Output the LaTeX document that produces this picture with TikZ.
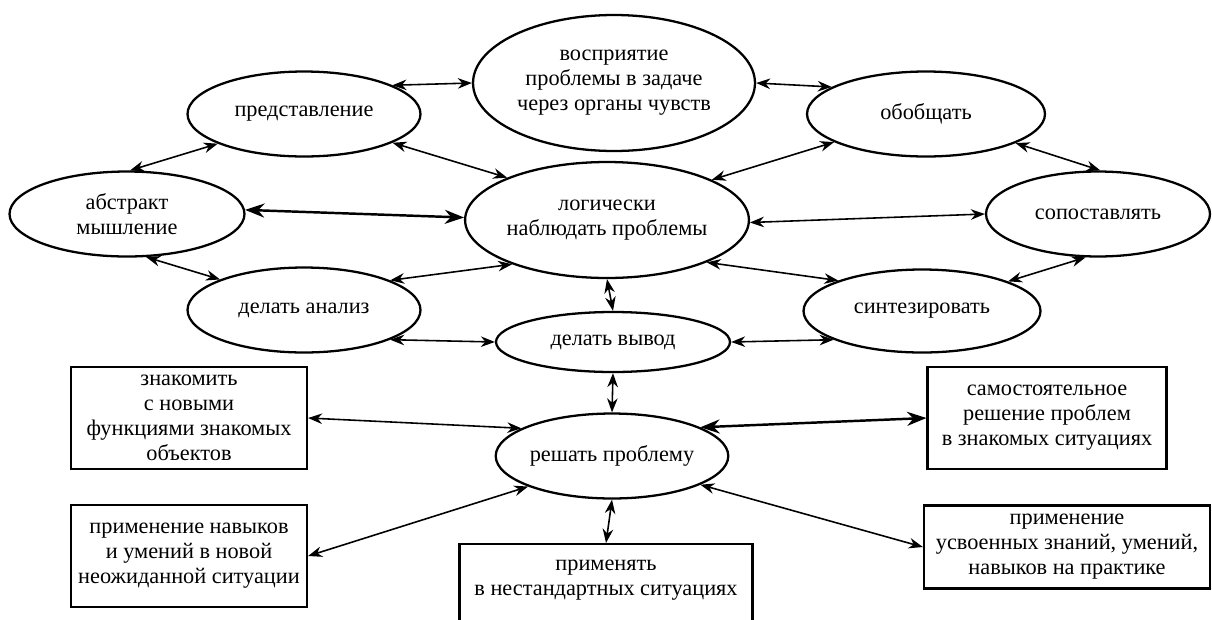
\documentclass[tikz,border=0pt]{standalone}
\usepackage{fontspec}
\setmainfont{Liberation Serif}
\usetikzlibrary{shapes.geometric,arrows.meta}

\begin{document}
\begin{tikzpicture}[x=0.02cm, y=-0.02cm,
	bubble/.style={ellipse, draw, line width=1.3pt, inner sep=0pt, align=center, font=\fontsize{12.7}{14.2}\selectfont},
	card/.style={rectangle, draw, line width=1.3pt, inner sep=0pt, align=center, font=\fontsize{12.7}{14.2}\selectfont},
	link/.style={<->, >={Stealth[length=8pt,width=6pt]}, line width=0.9pt},
	boldlink/.style={<->, >={Stealth[length=11pt,width=8pt]}, line width=1.4pt}]
			%%%%% START %%%%%
			
			\useasboundingbox (0, 0) rectangle (1212, 619);
			\clip (0, 0) rectangle (1212, 619);
			
			\node[bubble, minimum width=5.64cm, minimum height=2.72cm] (vospr) at (614, 83) {восприятие\\проблемы в задаче\\через органы чувств};
			\node[bubble, minimum width=4.66cm, minimum height=1.7cm] (predst) at (304, 114) {представление};
			\node[bubble, minimum width=4.76cm, minimum height=1.7cm] (obobsh) at (926, 114) {обобщать};
			
			\node[bubble, minimum width=4.7cm, minimum height=1.7cm] (abstr) at (127, 214) {абстракт\\мышление};
			\node[bubble, minimum width=5.4cm, minimum height=2.32cm] (logich) at (607, 220) {логически\\наблюдать проблемы};
			\node[bubble, minimum width=4.48cm, minimum height=1.7cm] (sopost) at (1098, 214) {сопоставлять};
			
			\node[bubble, minimum width=4.66cm, minimum height=1.7cm] (analiz) at (304, 310) {делать анализ};
			\node[bubble, minimum width=4.74cm, minimum height=1.66cm] (sintez) at (922, 311) {синтезировать};
			\node[bubble, minimum width=4.68cm, minimum height=1.2cm] (vyvod) at (613, 342) {делать вывод};
			\node[bubble, minimum width=4.64cm, minimum height=1.7cm] (reshat) at (612, 456) {решать проблему};
			
			\node[card, minimum width=4.72cm, minimum height=2.04cm] (znakom) at (189, 418) {знакомить\\с новыми\\функциями знакомых\\объектов};
			\node[card, minimum width=4.72cm, minimum height=2.04cm] (navyk) at (189, 556) {применение навыков\\и умений в новой\\неожиданной ситуации};
			\node[card, minimum width=4.78cm, minimum height=2.04cm] (samost) at (1047, 418) {самостоятельное\\решение проблем\\в знакомых ситуациях};
			\node[card, minimum width=5.72cm, minimum height=1.66cm] (usvoen) at (1067, 547) {применение\\усвоенных знаний, умений,\\навыков на практике};
			\node[card, anchor=north, minimum width=5.86cm] (primen) at (606, 543) {\parbox[t][2cm][t]{5.8cm}{\centering\vspace*{5pt}\strut применять\\в нестандартных ситуациях}};
			
			\draw[link] (predst.18) -- (vospr.180);
			\draw[link] (vospr.0) -- (obobsh.164);
			\draw[link] (predst.199) -- (abstr.86);
			\draw[link] (predst.342) -- (logich.157);
			\draw[link] (logich.21) -- (obobsh.197);
			\draw[link] (obobsh.342) -- (sopost.87);
			
			\draw[boldlink] (abstr.2) -- (logich.179);
			\draw[link] (logich.359) -- (sopost.180);
			\draw[link] (abstr.294) -- (analiz.160);
			\draw[link] (analiz.19) -- (logich.205);
			\draw[link] (logich.337) -- (sintez.160);
			\draw[link] (sopost.254) -- (sintez.19);
			
			\draw[link] (logich.south) -- (vyvod.north);
			\draw[link] (analiz.341) -- (vyvod.180);
			\draw[link] (vyvod.0) -- (sintez.198);
			\draw[link] (vyvod.south) -- (reshat.north);
			
			\draw[link] (znakom.east) -- (reshat.163);
			\draw[link] (navyk.east) -- (reshat.200);
			\draw[link] (reshat.south) -- (primen.north);
			\draw[boldlink] (reshat.18) -- (samost.west);
			\draw[link] (reshat.342) -- (usvoen.west);
			
			%%%%% END %%%%%
		\end{tikzpicture}
\end{document}
